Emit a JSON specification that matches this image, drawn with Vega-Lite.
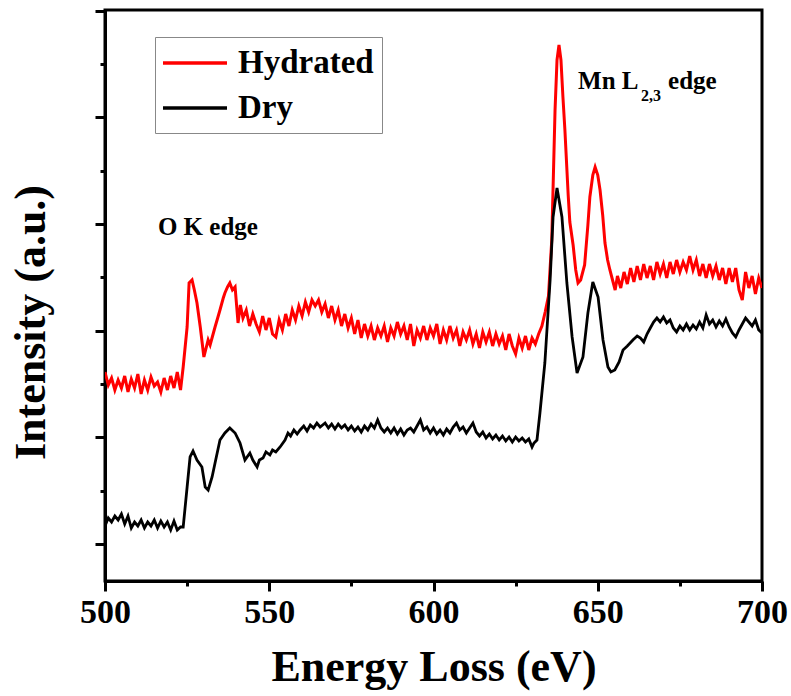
{
"$schema": "https://vega.github.io/schema/vega-lite/v6.json",
"width": 657, "height": 571,
"autosize": {"type": "none"},
"padding": {"left": 105, "top": 10, "right": 29, "bottom": 115},
"background": "white",
"config": {"view": {"stroke": "black", "strokeWidth": 3}, "font": "Liberation Serif, Times New Roman, serif"},
"datasets": {
"hydrated": [[500,172],[501,159],[502,166],[503,154],[504,164],[505,156],[506,168],[507,152],[508,165],[509,156],[510,170],[511,150],[512,164],[513,154],[514,167],[515,158],[516,162],[517,152],[518,166],[519,154],[520,168],[521,156],[522,172],[523,154],[523.8,177],[525,217],[525.6,261],[526.5,264],[527.2,254],[528,241],[529,217],[530.1,187],[531.4,204],[532,199],[533.5,217],[534.3,226],[535,234],[536,246],[536.5,251],[537.3,257],[538,261],[538.8,254],[539.6,257],[540.5,221],[541.2,239],[542,226],[543,234],[544,218],[545,230],[546,220],[547,212],[548,228],[549,214],[550,226],[551,210],[552,207],[553,224],[554,214],[555,230],[556,218],[557,234],[558,224],[559,238],[560,228],[561,242],[562,232],[563,244],[564,238],[565,244],[566,232],[567,240],[568,226],[569,238],[570,224],[571,234],[572,218],[573,230],[574,216],[575,226],[576,210],[577,224],[578,206],[579,220],[580,208],[581,218],[582,204],[583,216],[584,208],[585,218],[586,202],[587,216],[588,208],[589,222],[590,210],[591,218],[592,204],[593,220],[594,198],[595,214],[596,206],[597,218],[598,204],[599,216],[600,208],[601,220],[602,200],[603,214],[604,204],[605,218],[606,206],[607,214],[608,198],[609,212],[610,204],[611,214],[612,200],[613,210],[614,196],[615,212],[616,202],[617,212],[618,198],[619,210],[620,200],[621,208],[622,194],[623,210],[624,198],[625,190],[626,206],[627,196],[628,208],[629,194],[630,206],[631,200],[632,210],[633,218],[634,232],[635,248],[636,304],[637,434],[637.6,484],[638.2,499],[638.8,484],[639.4,447],[640,414],[641,349],[641.5,322],[642.5,299],[643.3,274],[644,261],[644.8,264],[646,279],[647,319],[647.6,347],[648.5,369],[649.2,377],[650,369],[650.7,354],[651.5,329],[652.2,301],[653,284],[653.7,274],[654.5,264],[655.3,254],[656,268],[657,256],[658,272],[659,260],[660,276],[661,262],[662,278],[663,264],[664,280],[665,266],[666,278],[667,264],[668,282],[669,270],[670,280],[671,266],[672,282],[673,270],[674,284],[675,272],[676,282],[677,274],[678,288],[679,274],[680,284],[681,268],[682,280],[683,266],[684,280],[685,268],[686,278],[687,264],[688,276],[689,260],[690,276],[691,262],[692,276],[693,254],[694,244],[695,272],[696,256],[697,268],[698,250],[699,266],[700,256]],
"dry": [[500,18],[501,26],[502,22],[503,28],[504,24],[505,30],[506,20],[507,28],[508,16],[509,22],[510,18],[511,24],[512,16],[513,22],[514,18],[515,24],[516,16],[517,23],[518,17],[519,22],[520,14],[521,23],[522,14],[523,17],[523.8,17],[525,57],[525.9,87],[526.8,93],[528,84],[529.5,77],[530.5,57],[531.4,54],[532.6,67],[533.5,81],[535,104],[536.5,111],[538,116],[539.6,111],[541.1,101],[542.6,84],[544.1,91],[545,84],[546.3,77],[547,84],[548.1,86],[549,92],[550.2,89],[551,94],[552,92],[553.3,97],[554.8,104],[555.7,111],[556.5,108],[557.5,114],[558.5,110],[559.4,114],[560.5,118],[561.5,113],[562.5,119],[563.5,116],[564.5,121],[565.5,117],[567,121],[568,116],[569,120],[570,115],[571,120],[572,116],[573,119],[574,114],[575,118],[576,113],[577,117],[578,112],[579,118],[580,114],[581,120],[582,116],[583,124],[584,116],[585,112],[586,116],[587,111],[588,116],[589,110],[590,115],[591,109],[592,114],[593,116],[594,112],[595,118],[596,124],[597,114],[598,117],[599,111],[600,116],[601,110],[602,114],[603,109],[604,115],[605,111],[606,117],[607,121],[608,114],[609,117],[610,111],[611,116],[612,121],[613,112],[614,108],[615,112],[616,106],[617,110],[618,105],[619,109],[620,104],[621,108],[622,103],[623,107],[624,102],[625,107],[626,103],[627,106],[628,102],[629,105],[630,97],[630.6,101],[631.5,104],[632.4,131],[633.9,181],[635.5,264],[636.4,327],[637.6,356],[639.1,327],[640.6,261],[642.2,207],[643.7,171],[645.5,187],[647,231],[648.5,262],[650.1,247],[651.6,204],[653.1,177],[654,172],[655.2,174],[656.5,182],[657.7,194],[659,198],[660.7,204],[662,208],[663,206],[664,202],[665,210],[666,216],[667,222],[668,226],[669,222],[670,227],[671,221],[672,224],[673,216],[674,212],[675,218],[676,214],[677,220],[678,214],[679,219],[680,215],[681,222],[682,216],[683,229],[684,220],[685,224],[686,217],[687,223],[688,218],[689,225],[690,217],[691,211],[692,207],[693,214],[694,220],[695,226],[696,222],[697,218],[698,224],[699,214],[700,211]],
"notes": [{"text": "O K edge", "energy": 516.1, "intensity": 309}, {"text": "Mn L", "energy": 644.0, "intensity": 455}, {"text": "edge", "energy": 671.4, "intensity": 455}],
"subs": [{"text": "2,3", "energy": 663.2, "intensity": 443}]
},
"layer": [
{
"data": {"name": "hydrated"},
"transform": [{"calculate": "datum[0]", "as": "energy"}, {"calculate": "datum[1]", "as": "intensity"}, {"calculate": "'Hydrated'", "as": "sample"}],
"mark": {"type": "line", "strokeWidth": 3, "clip": true},
"encoding": {
"x": {"field": "energy", "type": "quantitative", "scale": {"domain": [500, 700], "nice": false, "zero": false},
"axis": {"values": [500, 525, 550, 575, 600, 625, 650, 675, 700], "title": "Energy Loss (eV)", "grid": false,
"labelExpr": "datum.value % 50 === 0 ? datum.label : ''", "format": "d",
"tickSize": {"condition": {"test": "datum.value % 50 === 0", "value": 10}, "value": 5},
"tickWidth": 3, "tickColor": "black", "domainWidth": 3, "domainColor": "black",
"labelFont": "Liberation Serif, Times New Roman, serif", "labelFontWeight": "bold", "labelFontSize": 34, "labelColor": "black", "labelPadding": 4,
"labelFlush": false, "labelOverlap": false, "labelBound": false,
"titleFont": "Liberation Serif, Times New Roman, serif", "titleFontWeight": "bold", "titleFontSize": 44, "titleColor": "black",
"titleX": 328.5, "titleY": 99, "titleAlign": "center", "titleBaseline": "alphabetic"}},
"y": {"field": "intensity", "type": "quantitative", "scale": {"domain": [-37, 534], "nice": false, "zero": false},
"axis": {"values": [0, 53.35, 106.7, 160.05, 213.4, 266.75, 320.1, 373.45, 426.8, 480.15, 533.5], "labels": false, "grid": false,
"tickSize": {"condition": {"test": "abs(datum.value/106.7 - round(datum.value/106.7)) < 0.01", "value": 10}, "value": 5},
"tickWidth": 3, "tickColor": "black", "domainWidth": 3, "domainColor": "black",
"title": "Intensity (a.u.)", "titleFont": "Liberation Serif, Times New Roman, serif", "titleFontWeight": "bold", "titleFontSize": 44, "titleColor": "black",
"titleAngle": 270, "titleX": -74, "titleY": 312, "titleAlign": "center", "titleBaseline": "middle"}},
"color": {"field": "sample", "type": "nominal", "scale": {"domain": ["Hydrated", "Dry"], "range": ["#ff0000", "#000000"]},
"legend": {"orient": "none", "legendX": 50, "legendY": 27, "title": null, "symbolType": "M-2,0H2", "symbolSize": 1024, "symbolStrokeWidth": 3.5, "symbolOffset": 14,
"labelFont": "Liberation Serif, Times New Roman, serif", "labelFontSize": 33, "labelFontWeight": "bold", "labelColor": "black", "labelOffset": 25, "labelLimit": 300,
"rowPadding": 10, "padding": 8, "strokeColor": "#888888", "fillColor": "white"}}
}
},
{
"data": {"name": "dry"},
"transform": [{"calculate": "datum[0]", "as": "energy"}, {"calculate": "datum[1]", "as": "intensity"}, {"calculate": "'Dry'", "as": "sample"}],
"mark": {"type": "line", "strokeWidth": 2.8, "clip": true},
"encoding": {
"x": {"field": "energy", "type": "quantitative"},
"y": {"field": "intensity", "type": "quantitative"},
"color": {"field": "sample", "type": "nominal"}
}
},
{
"data": {"name": "notes"},
"mark": {"type": "text", "font": "Liberation Serif, Times New Roman, serif", "fontWeight": "bold", "fontSize": 25, "align": "left", "baseline": "alphabetic", "color": "black"},
"encoding": {
"x": {"field": "energy", "type": "quantitative"},
"y": {"field": "intensity", "type": "quantitative"},
"text": {"field": "text"}
}
},
{
"data": {"name": "subs"},
"mark": {"type": "text", "font": "Liberation Serif, Times New Roman, serif", "fontWeight": "bold", "fontSize": 16, "align": "left", "baseline": "alphabetic", "color": "black"},
"encoding": {
"x": {"field": "energy", "type": "quantitative"},
"y": {"field": "intensity", "type": "quantitative"},
"text": {"field": "text"}
}
}
]
}
